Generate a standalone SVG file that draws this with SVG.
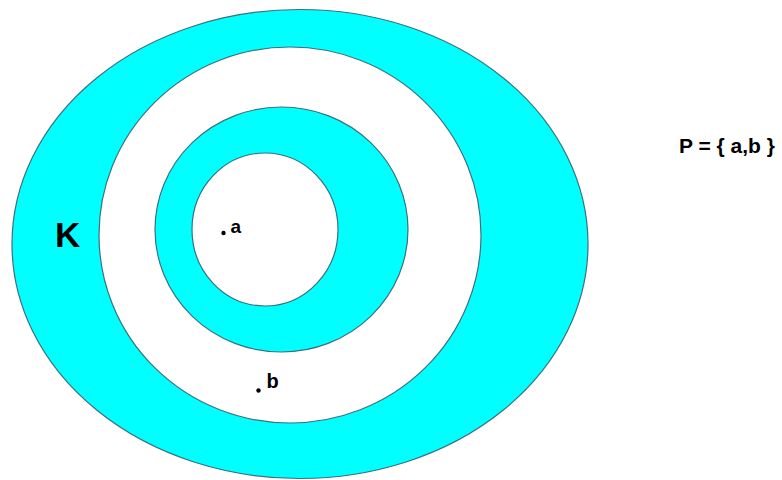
<svg xmlns="http://www.w3.org/2000/svg" width="782" height="480" viewBox="0 0 782 480">
<style>
.ring{stroke:#3a7080;stroke-width:1.2}
.cy{fill:#00ffff}
.wh{fill:#ffffff}
.t{font-family:"Liberation Sans",Arial,sans-serif;fill:#000}
</style>
<rect width="782" height="480" fill="#ffffff"/>
<g id="set-K">
<ellipse class="ring cy" cx="300" cy="244" rx="288" ry="234.5"/>
<text class="t" x="55" y="247" font-size="35" font-weight="bold">K</text>
</g>
<g id="ring-2">
<ellipse class="ring wh" cx="290" cy="235" rx="191" ry="188"/>
</g>
<g id="ring-3">
<ellipse class="ring cy" cx="281.5" cy="229.5" rx="126.5" ry="122.5"/>
</g>
<g id="ring-4">
<ellipse class="ring wh" cx="265" cy="229.5" rx="73" ry="76.5"/>
</g>
<g id="point-a">
<circle cx="223.5" cy="233" r="2.2" fill="#000"/>
<text class="t" x="230.5" y="233" font-size="19" font-weight="bold">a</text>
</g>
<g id="point-b">
<circle cx="258.5" cy="390.5" r="2.2" fill="#000"/>
<text class="t" x="266.5" y="388" font-size="20" font-weight="bold">b</text>
</g>
<g id="label-P">
<text class="t" x="679" y="153" font-size="21" font-weight="bold">P = { a,b }</text>
</g>
<g id="connectors"></g>
</svg>
